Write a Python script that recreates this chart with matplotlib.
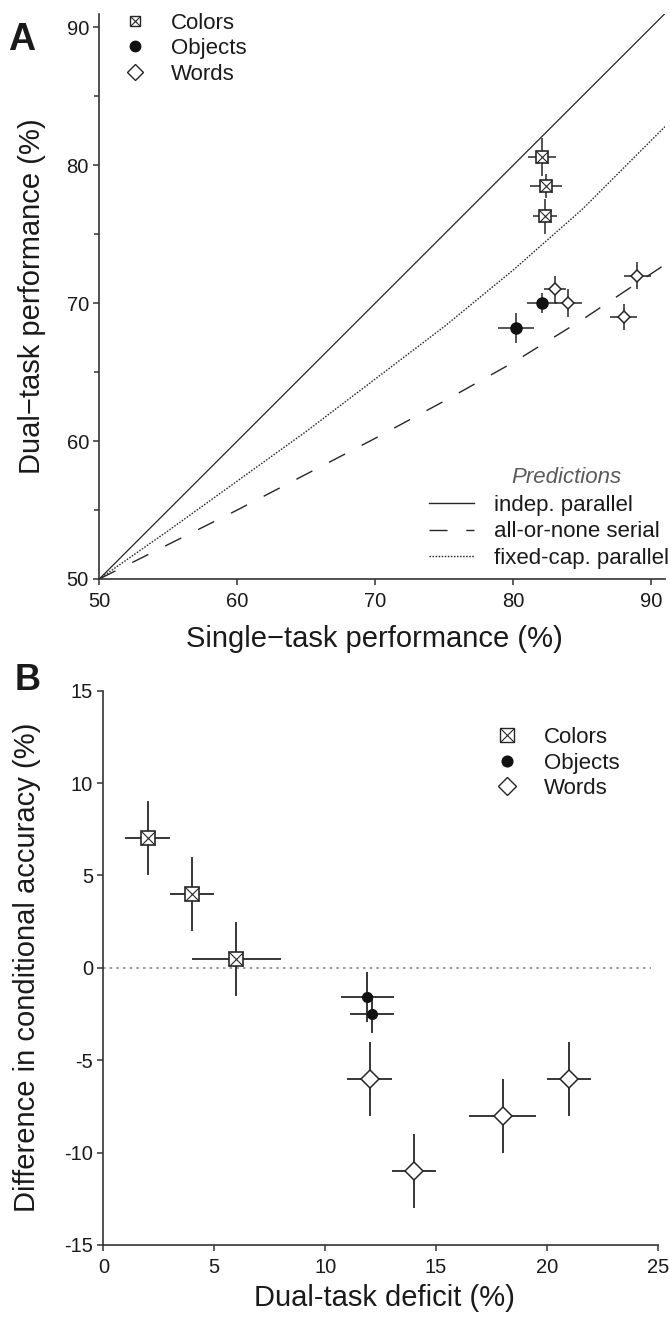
import matplotlib
matplotlib.use('Agg')
import matplotlib.pyplot as plt
from matplotlib.lines import Line2D

plt.rcParams['font.family'] = ['Liberation Sans', 'DejaVu Sans']

dark = '#262626'
spine_c = '#333333'

# ---- panel A data (single-task vs dual-task performance, %) ----
a_colors_x = [82.1, 82.4, 82.3]
a_colors_y = [80.6, 78.5, 76.3]
a_colors_xerr = [1.0, 1.15, 0.9]
a_colors_yerr = [1.4, 0.9, 1.25]

a_objects_x = [80.2, 82.1]
a_objects_y = [68.2, 70.0]
a_objects_xerr = [1.3, 1.1]
a_objects_yerr = [1.1, 0.75]

a_words_x = [83.0, 84.0, 88.0, 89.0]
a_words_y = [71.0, 70.0, 69.0, 72.0]
a_words_xerr = [0.8, 1.0, 1.0, 1.0]
a_words_yerr = [1.0, 1.0, 0.95, 0.95]

# prediction curves
pred_indep_x = [50, 91]
pred_indep_y = [50, 91]
pred_serial_x = [50, 55, 60, 65, 70, 75, 80, 85, 91]
pred_serial_y = [50, 52.5, 55.0, 57.6, 60.2, 62.9, 65.7, 68.8, 72.8]
pred_fixed_x = [50, 55, 60, 65, 70, 75, 80, 85, 91]
pred_fixed_y = [50, 53.5, 57.1, 60.7, 64.5, 68.3, 72.4, 76.8, 82.8]

# ---- panel B data (dual-task deficit vs diff in conditional accuracy) ----
b_colors_x = [2, 4, 6]
b_colors_y = [7, 4, 0.5]
b_colors_xerr = [1, 1, 2]
b_colors_yerr = [2, 2, 2]

b_objects_x = [11.9, 12.1]
b_objects_y = [-1.6, -2.5]
b_objects_xerr = [1.2, 1.0]
b_objects_yerr = [1.35, 1.05]

b_words_x = [12, 14, 18, 21]
b_words_y = [-6, -11, -8, -6]
b_words_xerr = [1, 1, 1.5, 1]
b_words_yerr = [2, 2, 2, 2]

group_labels = ['Colors', 'Objects', 'Words']
pred_labels = ['indep. parallel', 'all-or-none serial', 'fixed-cap. parallel']


def style_axes(ax):
    for s in ['top', 'right']:
        ax.spines[s].set_visible(False)
    for s in ['left', 'bottom']:
        ax.spines[s].set_color(spine_c)
        ax.spines[s].set_linewidth(1.2)
    ax.tick_params(which='both', direction='out', color=spine_c, width=1.1,
                   labelsize=14.5, labelcolor='#1a1a1a')
    ax.tick_params(which='major', length=4.5)
    ax.tick_params(which='minor', length=3.5)
    ax.tick_params(axis='x', pad=5)
    ax.tick_params(axis='y', pad=3)


def draw_points(ax, x, y, xe, ye, kind, ms, elw):
    ax.errorbar(x, y, xerr=xe, yerr=ye, fmt='none', ecolor=dark,
                elinewidth=elw, capsize=0, zorder=3)
    if kind == 'colors':
        ax.plot(x, y, ls='none', marker='s', ms=ms, mfc='white', mec=dark,
                mew=1.2, zorder=4)
        ax.plot(x, y, ls='none', marker='x', ms=ms, mec=dark, mew=0.8, zorder=5)
    elif kind == 'objects':
        ax.plot(x, y, ls='none', marker='o', ms=ms, mfc='#111111', mec='#111111',
                zorder=4)
    else:
        ax.plot(x, y, ls='none', marker='D', ms=ms, mfc='white', mec=dark,
                mew=1.1, zorder=4)


def group_handles(sq_ms, ci_ms, di_ms):
    sq = Line2D([], [], ls='none', marker='s', ms=sq_ms, mfc='white', mec=dark, mew=1.0)
    xx = Line2D([], [], ls='none', marker='x', ms=sq_ms, mec=dark, mew=0.8)
    ci = Line2D([], [], ls='none', marker='o', ms=ci_ms, mfc='#111111', mec='#111111')
    di = Line2D([], [], ls='none', marker='D', ms=di_ms, mfc='white', mec=dark, mew=1.0)
    return [(sq, xx), ci, di]


fig = plt.figure(figsize=(6.7, 13.17), dpi=100)

# ================= panel A =================
axA = fig.add_axes([0.1482, 0.5604, 0.8443, 0.4293])
style_axes(axA)

axA.plot(pred_indep_x, pred_indep_y, color=dark, lw=0.9, zorder=2)
axA.plot(pred_serial_x, pred_serial_y, color=dark, lw=1.0, dashes=(13, 13.5), zorder=2)
axA.plot(pred_fixed_x, pred_fixed_y, color=dark, lw=1.0, ls=(0, (1.1, 1.1)), zorder=2)

draw_points(axA, a_colors_x, a_colors_y, a_colors_xerr, a_colors_yerr, 'colors', 8.5, 1.1)
draw_points(axA, a_objects_x, a_objects_y, a_objects_xerr, a_objects_yerr, 'objects', 8, 1.1)
draw_points(axA, a_words_x, a_words_y, a_words_xerr, a_words_yerr, 'words', 6.2, 1.1)

axA.set_xlim(50, 91)
axA.set_ylim(50, 91)
axA.set_xticks([50, 60, 70, 80, 90])
axA.set_yticks([50, 60, 70, 80, 90])
axA.set_yticks([55, 65, 75, 85], minor=True)

axA.set_xlabel('Single\u2212task performance (%)', fontsize=21, color='#1a1a1a')
axA.set_ylabel('Dual\u2212task performance (%)', fontsize=21, color='#1a1a1a')
axA.xaxis.set_label_coords(0.487, -0.082)
axA.yaxis.set_label_coords(-0.095, 0.5)

legA = axA.legend(group_handles(7.5, 7.5, 8.0), group_labels, loc='upper left',
                  bbox_to_anchor=(0.043, 1.0014), frameon=False, fontsize=16,
                  handlelength=1.0, handletextpad=1.13, borderpad=0,
                  borderaxespad=0, labelspacing=0.2)
for t in legA.get_texts():
    t.set_color('#1a1a1a')
axA.add_artist(legA)

pred_handles = [
    Line2D([], [], color=dark, lw=1.0),
    Line2D([], [], color=dark, lw=1.0, dashes=(13, 13.5)),
    Line2D([], [], color=dark, lw=1.0, ls=(0, (1.1, 1.1))),
]
legP = axA.legend(pred_handles, pred_labels, loc='lower left',
                  bbox_to_anchor=(0.583, 0.018), frameon=False, fontsize=16,
                  handlelength=2.02, handletextpad=0.88, borderpad=0,
                  borderaxespad=0, labelspacing=0.24)
for t in legP.get_texts():
    t.set_color('#1a1a1a')
axA.text(0.825, 0.170, 'Predictions', transform=axA.transAxes, ha='center',
         va='baseline', fontsize=16, style='italic', color='#5a5a5a')

fig.text(8 / 670, 1 - 50 / 1317, 'A', fontsize=27, fontweight='bold',
         ha='left', va='baseline', color='#1a1a1a')

# ================= panel B =================
axB = fig.add_axes([0.1542, 0.0547, 0.8278, 0.4209])
style_axes(axB)

axB.axhline(0, xmin=0, xmax=0.988, color='#8a8a8a', lw=1.2, ls=(0, (1.5, 2.5)), zorder=1)

draw_points(axB, b_colors_x, b_colors_y, b_colors_xerr, b_colors_yerr, 'colors', 9.6, 1.3)
draw_points(axB, b_objects_x, b_objects_y, b_objects_xerr, b_objects_yerr, 'objects', 7, 1.3)
draw_points(axB, b_words_x, b_words_y, b_words_xerr, b_words_yerr, 'words', 9.2, 1.3)

axB.set_xlim(0, 25)
axB.set_ylim(-15, 15)
axB.set_xticks([0, 5, 10, 15, 20, 25])
axB.set_yticks([-15, -10, -5, 0, 5, 10, 15])
axB.set_yticklabels(['-15', '-10', '-5', '0', '5', '10', '15'])

axB.set_xlabel('Dual-task deficit (%)', fontsize=21, color='#1a1a1a')
axB.set_ylabel('Difference in conditional accuracy (%)', fontsize=21, color='#1a1a1a')
axB.xaxis.set_label_coords(0.507, -0.070)
axB.yaxis.set_label_coords(-0.112, 0.5)

legB = axB.legend(group_handles(10, 7.7, 8.7), group_labels, loc='upper left',
                  bbox_to_anchor=(0.708, 0.934), frameon=False, fontsize=16,
                  handlelength=1.0, handletextpad=1.15, borderpad=0,
                  borderaxespad=0, labelspacing=0.2)
for t in legB.get_texts():
    t.set_color('#1a1a1a')

fig.text(15 / 670, 1 - 690 / 1317, 'B', fontsize=26, fontweight='bold',
         ha='left', va='baseline', color='#1a1a1a')

fig.savefig('out.png', dpi=100)
